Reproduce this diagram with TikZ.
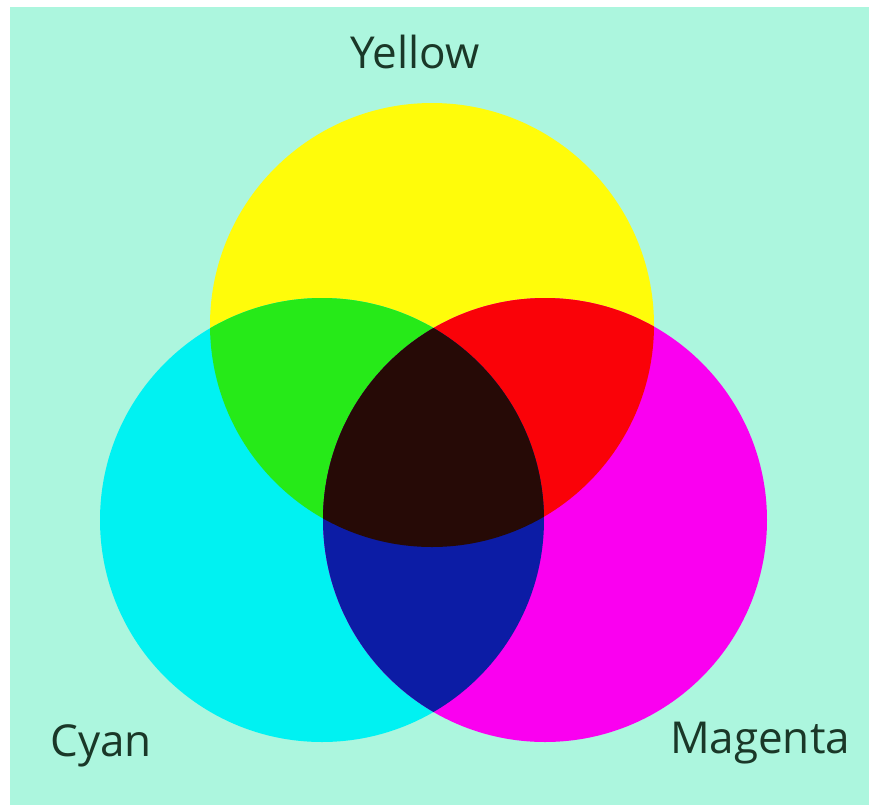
\documentclass[tikz,border=0pt]{standalone}
\usepackage{fontspec}
\setmainfont{Open Sans}
\definecolor{bgmint}{RGB}{172,246,222}
\definecolor{cyel}{RGB}{255,252,10}
\definecolor{ccyan}{RGB}{0,242,242}
\definecolor{cmag}{RGB}{250,0,240}
\definecolor{cgreen}{RGB}{38,234,24}
\definecolor{cred}{RGB}{250,2,8}
\definecolor{cblue}{RGB}{12,28,165}
\definecolor{cblack}{RGB}{38,10,6}
\definecolor{labelc}{RGB}{26,56,40}
\tikzset{lab/.style={anchor=base, text=labelc, font=\fontsize{22}{25}\selectfont, inner sep=0pt}}
\begin{document}
\begin{tikzpicture}[x=0.5pt,y=-0.5pt]
\useasboundingbox (0,0) rectangle (869,805);
\fill[white] (0,0) rectangle (869,805);
\fill[bgmint] (10,7) rectangle (869,805);
\coordinate (Y) at (432,325);
\coordinate (C) at (322,520);
\coordinate (M) at (545,520);
\fill[cyel] (Y) circle[radius=111pt];
\fill[ccyan] (C) circle[radius=111pt];
\fill[cmag] (M) circle[radius=111pt];
\begin{scope}
\clip (Y) circle[radius=111pt];
\fill[cgreen] (C) circle[radius=111pt];
\fill[cred] (M) circle[radius=111pt];
\end{scope}
\begin{scope}
\clip (C) circle[radius=111pt];
\fill[cblue] (M) circle[radius=111pt];
\clip (M) circle[radius=111pt];
\fill[cblack] (Y) circle[radius=111pt];
\end{scope}
\node[lab] (ty) at (415,68) {Yellow};
\node[lab] (tc) at (101,756) {Cyan};
\node[lab] (tm) at (760,753) {Magenta};
\end{tikzpicture}
\end{document}
